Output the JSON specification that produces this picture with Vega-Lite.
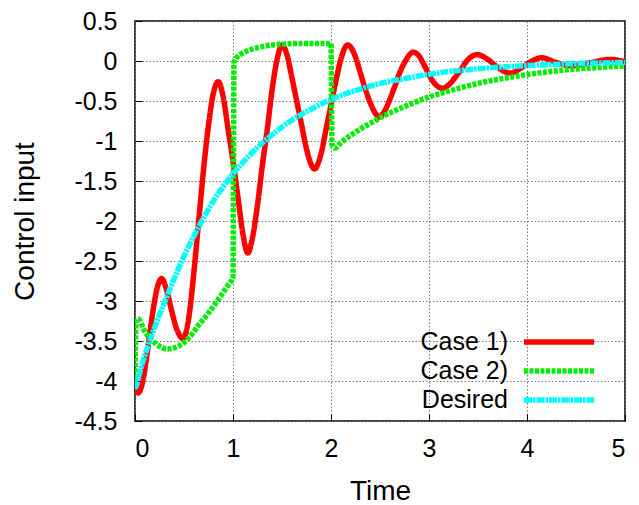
{
  "$schema": "https://vega.github.io/schema/vega-lite/v6.json",
  "width": 490,
  "height": 400,
  "autosize": "none",
  "padding": {"left": 135, "top": 21, "right": 14, "bottom": 84},
  "background": "white",
  "config": {
    "font": "Liberation Sans",
    "view": {"stroke": "#000000", "strokeWidth": 1.5},
    "axis": {
      "domain": false,
      "grid": true,
      "gridColor": "#777777",
      "gridDash": [1.5, 2],
      "gridWidth": 1,
      "ticks": true,
      "tickColor": "#000000",
      "tickSize": -7,
      "tickWidth": 1,
      "labelFont": "Liberation Sans",
      "labelFontSize": 25,
      "labelColor": "#000000",
      "titleFont": "Liberation Sans",
      "titleFontSize": 28,
      "titleFontWeight": "normal",
      "titleColor": "#000000"
    }
  },
  "data": {
    "values": [
      {"series": "Case 1)", "t": 0, "v": -4.1},
      {"series": "Case 1)", "t": 0.03, "v": -4.15},
      {"series": "Case 1)", "t": 0.08, "v": -4.0},
      {"series": "Case 1)", "t": 0.13, "v": -3.6},
      {"series": "Case 1)", "t": 0.18, "v": -3.15},
      {"series": "Case 1)", "t": 0.23, "v": -2.82},
      {"series": "Case 1)", "t": 0.27, "v": -2.72},
      {"series": "Case 1)", "t": 0.32, "v": -2.85},
      {"series": "Case 1)", "t": 0.37, "v": -3.1},
      {"series": "Case 1)", "t": 0.42, "v": -3.33},
      {"series": "Case 1)", "t": 0.49, "v": -3.47},
      {"series": "Case 1)", "t": 0.55, "v": -3.2},
      {"series": "Case 1)", "t": 0.6, "v": -2.65},
      {"series": "Case 1)", "t": 0.65, "v": -2.0},
      {"series": "Case 1)", "t": 0.7, "v": -1.35},
      {"series": "Case 1)", "t": 0.75, "v": -0.8},
      {"series": "Case 1)", "t": 0.8, "v": -0.4},
      {"series": "Case 1)", "t": 0.85, "v": -0.26},
      {"series": "Case 1)", "t": 0.9, "v": -0.45},
      {"series": "Case 1)", "t": 0.95, "v": -0.85},
      {"series": "Case 1)", "t": 1.0, "v": -1.25},
      {"series": "Case 1)", "t": 1.05, "v": -1.7},
      {"series": "Case 1)", "t": 1.1, "v": -2.15},
      {"series": "Case 1)", "t": 1.15, "v": -2.4},
      {"series": "Case 1)", "t": 1.2, "v": -2.2},
      {"series": "Case 1)", "t": 1.25, "v": -1.8},
      {"series": "Case 1)", "t": 1.3, "v": -1.3},
      {"series": "Case 1)", "t": 1.35, "v": -0.85},
      {"series": "Case 1)", "t": 1.4, "v": -0.35},
      {"series": "Case 1)", "t": 1.45, "v": 0.02},
      {"series": "Case 1)", "t": 1.5, "v": 0.2},
      {"series": "Case 1)", "t": 1.55, "v": 0.08},
      {"series": "Case 1)", "t": 1.6, "v": -0.2},
      {"series": "Case 1)", "t": 1.65, "v": -0.5},
      {"series": "Case 1)", "t": 1.7, "v": -0.8},
      {"series": "Case 1)", "t": 1.75, "v": -1.1},
      {"series": "Case 1)", "t": 1.8, "v": -1.3},
      {"series": "Case 1)", "t": 1.83, "v": -1.35},
      {"series": "Case 1)", "t": 1.9, "v": -1.15},
      {"series": "Case 1)", "t": 1.95, "v": -0.85},
      {"series": "Case 1)", "t": 2.0, "v": -0.55},
      {"series": "Case 1)", "t": 2.05, "v": -0.25},
      {"series": "Case 1)", "t": 2.1, "v": 0.02},
      {"series": "Case 1)", "t": 2.17, "v": 0.2},
      {"series": "Case 1)", "t": 2.25, "v": 0.05},
      {"series": "Case 1)", "t": 2.3, "v": -0.15},
      {"series": "Case 1)", "t": 2.35, "v": -0.35},
      {"series": "Case 1)", "t": 2.4, "v": -0.52},
      {"series": "Case 1)", "t": 2.45, "v": -0.65},
      {"series": "Case 1)", "t": 2.49, "v": -0.7},
      {"series": "Case 1)", "t": 2.55, "v": -0.62},
      {"series": "Case 1)", "t": 2.6, "v": -0.48},
      {"series": "Case 1)", "t": 2.65, "v": -0.32},
      {"series": "Case 1)", "t": 2.7, "v": -0.15},
      {"series": "Case 1)", "t": 2.75, "v": -0.02},
      {"series": "Case 1)", "t": 2.84, "v": 0.11},
      {"series": "Case 1)", "t": 2.9, "v": 0.06},
      {"series": "Case 1)", "t": 2.95, "v": -0.05},
      {"series": "Case 1)", "t": 3.0, "v": -0.17},
      {"series": "Case 1)", "t": 3.05, "v": -0.27},
      {"series": "Case 1)", "t": 3.14, "v": -0.34},
      {"series": "Case 1)", "t": 3.2, "v": -0.3},
      {"series": "Case 1)", "t": 3.3, "v": -0.15},
      {"series": "Case 1)", "t": 3.4, "v": 0.02},
      {"series": "Case 1)", "t": 3.49, "v": 0.08},
      {"series": "Case 1)", "t": 3.6, "v": 0.02},
      {"series": "Case 1)", "t": 3.7, "v": -0.08},
      {"series": "Case 1)", "t": 3.83, "v": -0.15},
      {"series": "Case 1)", "t": 3.95, "v": -0.08},
      {"series": "Case 1)", "t": 4.05, "v": 0.0},
      {"series": "Case 1)", "t": 4.15, "v": 0.04},
      {"series": "Case 1)", "t": 4.3, "v": -0.02},
      {"series": "Case 1)", "t": 4.45, "v": -0.06},
      {"series": "Case 1)", "t": 4.65, "v": -0.02},
      {"series": "Case 1)", "t": 4.85, "v": 0.02},
      {"series": "Case 1)", "t": 5.0, "v": -0.01},

      {"series": "Case 2)", "t": 0, "v": -4.1},
      {"series": "Case 2)", "t": 0.01, "v": -3.25},
      {"series": "Case 2)", "t": 0.03, "v": -3.22},
      {"series": "Case 2)", "t": 0.1, "v": -3.38},
      {"series": "Case 2)", "t": 0.2, "v": -3.52},
      {"series": "Case 2)", "t": 0.33, "v": -3.6},
      {"series": "Case 2)", "t": 0.45, "v": -3.56},
      {"series": "Case 2)", "t": 0.55, "v": -3.46},
      {"series": "Case 2)", "t": 0.65, "v": -3.3},
      {"series": "Case 2)", "t": 0.75, "v": -3.15},
      {"series": "Case 2)", "t": 0.85, "v": -2.98},
      {"series": "Case 2)", "t": 0.95, "v": -2.8},
      {"series": "Case 2)", "t": 1.0, "v": -2.7},
      {"series": "Case 2)", "t": 1.01, "v": -0.02},
      {"series": "Case 2)", "t": 1.05, "v": 0.06},
      {"series": "Case 2)", "t": 1.1, "v": 0.1},
      {"series": "Case 2)", "t": 1.2, "v": 0.15},
      {"series": "Case 2)", "t": 1.3, "v": 0.18},
      {"series": "Case 2)", "t": 1.4, "v": 0.2},
      {"series": "Case 2)", "t": 1.5, "v": 0.21},
      {"series": "Case 2)", "t": 1.7, "v": 0.22},
      {"series": "Case 2)", "t": 2.0, "v": 0.22},
      {"series": "Case 2)", "t": 2.01, "v": -1.04},
      {"series": "Case 2)", "t": 2.04, "v": -1.09},
      {"series": "Case 2)", "t": 2.1, "v": -1.02},
      {"series": "Case 2)", "t": 2.2, "v": -0.93},
      {"series": "Case 2)", "t": 2.3, "v": -0.85},
      {"series": "Case 2)", "t": 2.4, "v": -0.78},
      {"series": "Case 2)", "t": 2.5, "v": -0.71},
      {"series": "Case 2)", "t": 2.75, "v": -0.57},
      {"series": "Case 2)", "t": 3.0, "v": -0.45},
      {"series": "Case 2)", "t": 3.25, "v": -0.36},
      {"series": "Case 2)", "t": 3.5, "v": -0.28},
      {"series": "Case 2)", "t": 3.75, "v": -0.22},
      {"series": "Case 2)", "t": 4.0, "v": -0.17},
      {"series": "Case 2)", "t": 4.25, "v": -0.13},
      {"series": "Case 2)", "t": 4.5, "v": -0.1},
      {"series": "Case 2)", "t": 4.75, "v": -0.08},
      {"series": "Case 2)", "t": 5.0, "v": -0.06},

      {"series": "Desired", "t": 0, "v": -4.1},
      {"series": "Desired", "t": 0.1, "v": -3.68},
      {"series": "Desired", "t": 0.2, "v": -3.33},
      {"series": "Desired", "t": 0.3, "v": -3.02},
      {"series": "Desired", "t": 0.4, "v": -2.72},
      {"series": "Desired", "t": 0.5, "v": -2.44},
      {"series": "Desired", "t": 0.6, "v": -2.19},
      {"series": "Desired", "t": 0.7, "v": -1.96},
      {"series": "Desired", "t": 0.8, "v": -1.75},
      {"series": "Desired", "t": 0.9, "v": -1.57},
      {"series": "Desired", "t": 1.0, "v": -1.41},
      {"series": "Desired", "t": 1.2, "v": -1.14},
      {"series": "Desired", "t": 1.4, "v": -0.92},
      {"series": "Desired", "t": 1.6, "v": -0.74},
      {"series": "Desired", "t": 1.8, "v": -0.6},
      {"series": "Desired", "t": 2.0, "v": -0.48},
      {"series": "Desired", "t": 2.25, "v": -0.37},
      {"series": "Desired", "t": 2.5, "v": -0.28},
      {"series": "Desired", "t": 2.75, "v": -0.22},
      {"series": "Desired", "t": 3.0, "v": -0.165},
      {"series": "Desired", "t": 3.5, "v": -0.097},
      {"series": "Desired", "t": 4.0, "v": -0.057},
      {"series": "Desired", "t": 4.5, "v": -0.033},
      {"series": "Desired", "t": 5.0, "v": -0.019}
    ]
  },
  "mark": {"type": "line", "interpolate": "monotone", "strokeWidth": 5.5, "clip": true},
  "encoding": {
    "x": {
      "field": "t",
      "type": "quantitative",
      "scale": {"domain": [0, 5], "nice": false},
      "axis": {"values": [0, 1, 2, 3, 4, 5], "title": "Time", "labelPadding": 22, "titlePadding": 16, "labelExpr": "'' + datum.value"}
    },
    "y": {
      "field": "v",
      "type": "quantitative",
      "scale": {"domain": [-4.5, 0.5], "nice": false, "zero": false},
      "axis": {"values": [-4.5, -4, -3.5, -3, -2.5, -2, -1.5, -1, -0.5, 0, 0.5], "title": "Control input", "labelPadding": 25, "titlePadding": 34, "labelExpr": "'' + datum.value"}
    },
    "color": {
      "field": "series",
      "type": "nominal",
      "scale": {"domain": ["Case 1)", "Case 2)", "Desired"], "range": ["#ff0000", "#00ee00", "#00ffff"]},
      "legend": {
        "title": null,
        "orient": "none",
        "legendX": 411,
        "legendY": 308,
        "symbolType": "M-3.5,0L3.5,0",
        "symbolSize": 400,
        "symbolStrokeWidth": 5.5,
        "symbolFillColor": "transparent",
        "labelFontSize": 25,
        "labelFont": "Liberation Sans",
        "labelColor": "#000000",
        "labelAlign": "right",
        "labelOffset": -64,
        "rowPadding": 3
      }
    },
    "strokeDash": {
      "field": "series",
      "type": "nominal",
      "scale": {"domain": ["Case 1)", "Case 2)", "Desired"], "range": [[1, 0], [4, 1.5], [8, 1, 2.5, 1]]}
    }
  }
}
